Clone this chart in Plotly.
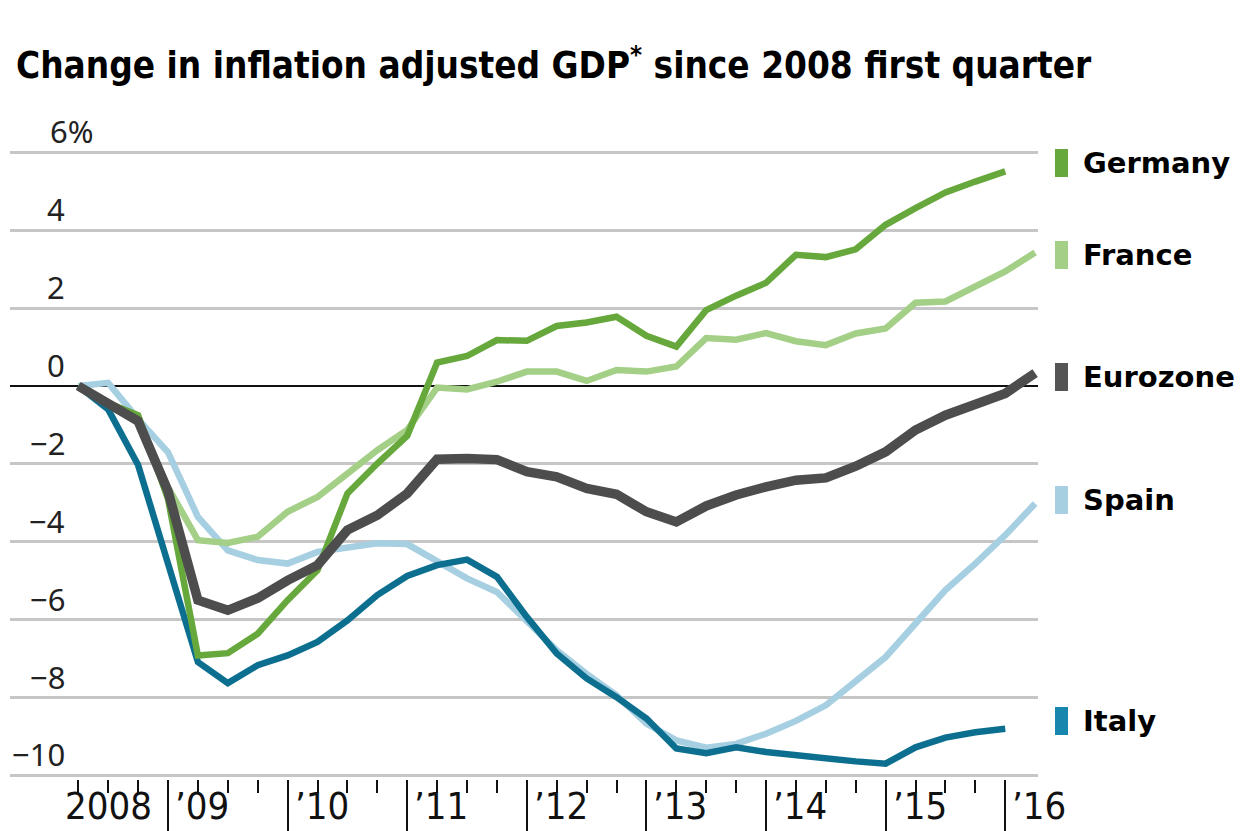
import plotly.graph_objects as go

# Quarter-end positions (decimal years), 2008 Q1 .. 2016 Q1
quarter_end = [2008.25 + 0.25 * i for i in range(33)]

# Percent change in real GDP vs. 2008 Q1
germany = [0, -0.44, -0.75, -2.9, -6.92, -6.86, -6.36, -5.5, -4.73, -2.76, -1.99,
           -1.28, 0.6, 0.77, 1.18, 1.16, 1.54, 1.63, 1.78, 1.29, 1.01, 1.95, 2.32,
           2.65, 3.37, 3.31, 3.51, 4.14, 4.57, 4.97, 5.25, 5.51]
france = [0, -0.45, -0.9, -2.6, -3.96, -4.03, -3.87, -3.23, -2.85, -2.25, -1.65,
          -1.13, -0.04, -0.09, 0.11, 0.37, 0.37, 0.13, 0.41, 0.37, 0.5, 1.23, 1.19,
          1.36, 1.15, 1.05, 1.35, 1.48, 2.14, 2.17, 2.55, 2.94, 3.43]
eurozone = [0, -0.45, -0.9, -2.7, -5.5, -5.76, -5.45, -4.99, -4.6, -3.7, -3.32,
            -2.76, -1.88, -1.86, -1.89, -2.2, -2.33, -2.63, -2.78, -3.23, -3.49,
            -3.08, -2.8, -2.59, -2.42, -2.36, -2.06, -1.69, -1.13, -0.75, -0.49,
            -0.19, 0.33]
spain = [0, 0.08, -0.85, -1.7, -3.36, -4.22, -4.47, -4.56, -4.26, -4.13, -4.04,
         -4.06, -4.51, -4.94, -5.29, -6.02, -6.79, -7.39, -7.94, -8.67, -9.1,
         -9.29, -9.19, -8.93, -8.6, -8.2, -7.56, -6.96, -6.1, -5.24, -4.56, -3.83,
         -3.02]
italy = [0, -0.6, -2.03, -4.55, -7.09, -7.63, -7.17, -6.92, -6.57, -6.02, -5.37,
         -4.88, -4.6, -4.46, -4.9, -5.93, -6.87, -7.51, -7.99, -8.54, -9.31, -9.43,
         -9.28, -9.4, -9.49, -9.59, -9.64, -9.7, -9.28, -9.03, -8.89, -8.8]

y_ticks = [6, 4, 2, 0, -2, -4, -6, -8, -10]
y_tick_text = ["6%", "4", "2", "0", "\u22122", "\u22124", "\u22126", "\u22128", "\u221210"]
year_ticks = [2009, 2010, 2011, 2012, 2013, 2014, 2015, 2016]
year_labels = ["\u201909", "\u201910", "\u201911", "\u201912", "\u201913", "\u201914",
               "\u201915", "\u201916"]

series = [
    ("Spain", spain, "#a7cfe2", 6.5, "#a7cfe2"),
    ("France", france, "#a4cf87", 6.5, "#a4cf87"),
    ("Italy", italy, "#0d6f8f", 6.5, "#1787ad"),
    ("Germany", germany, "#66a83b", 6.5, "#66a83b"),
    ("Eurozone", eurozone, "#4d4d4d", 9.5, "#555555"),
]
label_order = ["Germany", "France", "Eurozone", "Spain", "Italy"]
label_y_px = {"Germany": 163, "France": 255, "Eurozone": 377, "Spain": 500, "Italy": 721}

W, H = 1248, 831
L, R, T, B = 10, 210, 149, 52
plot_w, plot_h = W - L - R, H - T - B
x_min, x_max = 2007.679, 2016.274
px_per_unit = 38.94
zero_px = 386
y_max = (zero_px - T) / px_per_unit
y_min = -((H - B) - zero_px) / px_per_unit

COND = "DejaVu Sans Condensed, DejaVu Sans, sans-serif"


def paper_x(px):
    return (px - L) / plot_w


def paper_y(py):
    return (H - B - py) / plot_h


def value_px(v):
    return zero_px - v * px_per_unit


fig = go.Figure()
for name, vals, color, width, _ in series:
    fig.add_trace(go.Scatter(
        x=quarter_end[:len(vals)], y=vals, mode="lines", name=name,
        line=dict(color=color, width=width), cliponaxis=False,
        hoverinfo="skip",
    ))

annotations = []
shapes = []

# Title
annotations.append(dict(
    x=paper_x(14), y=paper_y(63), xref="paper", yref="paper",
    xanchor="left", yanchor="middle", showarrow=False,
    text="<b>Change in inflation adjusted GDP<sup>*</sup> since 2008 first quarter</b>",
    font=dict(family=COND, size=36.6, color="#000000"),
))

# Y-axis labels sitting above their gridlines
for v, t in zip(y_ticks, y_tick_text):
    gy = value_px(v)
    if t.endswith("%"):
        ax, anc = 48, "left"
    else:
        ax, anc = 67, "right"
    annotations.append(dict(
        x=paper_x(ax), y=paper_y(gy - 21), xref="paper", yref="paper",
        xanchor=anc, yanchor="middle", showarrow=False, text=t,
        font=dict(family="Noto Sans, sans-serif", size=31, color="#222222"),
    ))

# X-axis year labels
annotations.append(dict(
    x=2008.5, y=paper_y(806), xref="x", yref="paper", xanchor="center",
    yanchor="middle", showarrow=False, text="2008", borderpad=0,
    font=dict(family=COND, size=38, color="#111111"),
))
for yr, lab in zip(year_ticks, year_labels):
    annotations.append(dict(
        x=yr, y=paper_y(806), xref="x", yref="paper", xanchor="left", xshift=6,
        yanchor="middle", showarrow=False, text=lab, borderpad=0,
        font=dict(family=COND, size=38, color="#111111"),
    ))

# Right-hand labels with colour keys
key_color = {s[0]: s[4] for s in series}
for name in label_order:
    cy = label_y_px[name]
    shapes.append(dict(
        type="rect", xref="paper", yref="paper",
        x0=paper_x(1055), x1=paper_x(1068), y0=paper_y(cy + 14), y1=paper_y(cy - 14),
        fillcolor=key_color[name], line=dict(width=0),
    ))
    annotations.append(dict(
        x=paper_x(1081), y=paper_y(cy), xref="paper", yref="paper",
        xanchor="left", yanchor="middle", showarrow=False,
        text="<b>%s</b>" % name,
        font=dict(family="DejaVu Sans, sans-serif", size=29, color="#000000"),
    ))

minor_q = [q for q in quarter_end if q not in year_ticks and q < 2016.1]

fig.update_layout(
    width=W, height=H,
    margin=dict(l=L, r=R, t=T, b=B, pad=0, autoexpand=False),
    paper_bgcolor="white", plot_bgcolor="white",
    showlegend=False,
    annotations=annotations, shapes=shapes,
    xaxis=dict(
        range=[x_min, x_max], showgrid=False, zeroline=False, showline=False,
        automargin=False,
        tickmode="array", tickvals=year_ticks, ticks="outside", ticklen=54,
        tickwidth=2, tickcolor="#111111", showticklabels=False,
        minor=dict(tickmode="array", tickvals=minor_q, ticks="outside", ticklen=13,
                   tickwidth=2, tickcolor="#111111", showgrid=False),
        fixedrange=True,
    ),
    yaxis=dict(
        range=[y_min, y_max], tickmode="array", tickvals=y_ticks, showticklabels=False,
        automargin=False,
        showgrid=True, gridcolor="#c6c6c6", gridwidth=2.5,
        zeroline=True, zerolinecolor="#111111", zerolinewidth=2.2,
        showline=False, ticks="", fixedrange=True,
    ),
)

fig.write_html("out.html")
